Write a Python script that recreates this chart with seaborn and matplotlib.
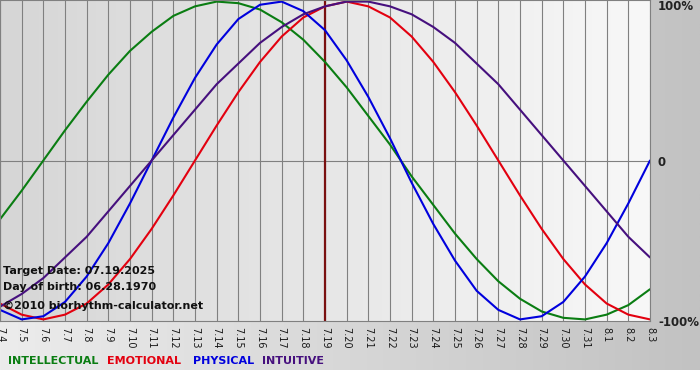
import numpy as np
import pandas as pd
import matplotlib
matplotlib.use("Agg")
import matplotlib.pyplot as plt
from matplotlib.colors import LinearSegmentedColormap
import seaborn as sns


# data (one value per day, -1 .. 1)
days = ["7.4", "7.5", "7.6", "7.7", "7.8", "7.9", "7.10", "7.11", "7.12", "7.13",
        "7.14", "7.15", "7.16", "7.17", "7.18", "7.19", "7.20", "7.21", "7.22", "7.23",
        "7.24", "7.25", "7.26", "7.27", "7.28", "7.29", "7.30", "7.31", "8.1", "8.2", "8.3"]

intellectual = [-0.37, -0.19, 0.00, 0.19, 0.37, 0.54, 0.69, 0.81, 0.91, 0.97,
                1.00, 0.99, 0.95, 0.87, 0.76, 0.62, 0.46, 0.28, 0.10, -0.10,
                -0.28, -0.46, -0.62, -0.76, -0.87, -0.95, -0.99, -1.00, -0.97, -0.91, -0.81]

emotional = [-0.90, -0.97, -1.00, -0.97, -0.90, -0.78, -0.62, -0.43, -0.22, 0.00,
             0.22, 0.43, 0.62, 0.78, 0.90, 0.97, 1.00, 0.97, 0.90, 0.78,
             0.62, 0.43, 0.22, 0.00, -0.22, -0.43, -0.62, -0.78, -0.90, -0.97, -1.00]

physical = [-0.94, -1.00, -0.98, -0.89, -0.73, -0.52, -0.27, 0.00, 0.27, 0.52,
            0.73, 0.89, 0.98, 1.00, 0.94, 0.82, 0.63, 0.40, 0.14, -0.14,
            -0.40, -0.63, -0.82, -0.94, -1.00, -0.98, -0.89, -0.73, -0.52, -0.27, 0.00]

intuitive = [-0.92, -0.84, -0.74, -0.61, -0.48, -0.32, -0.16, 0.00, 0.16, 0.32,
             0.48, 0.61, 0.74, 0.84, 0.92, 0.97, 1.00, 1.00, 0.97, 0.92,
             0.84, 0.74, 0.61, 0.48, 0.32, 0.16, 0.00, -0.16, -0.32, -0.48, -0.61]

cycles = ["INTELLECTUAL", "EMOTIONAL", "PHYSICAL", "INTUITIVE"]
colors = {"INTELLECTUAL": "#0a7d12", "EMOTIONAL": "#e3000f",
          "PHYSICAL": "#0000dd", "INTUITIVE": "#46107e"}
target_day = "7.19"
info_lines = ["Target Date: 07.19.2025", "Day of birth: 06.28.1970",
              "\u00a92010 biorhythm-calculator.net"]
y_labels = ["100%", "0", "-100%"]

sns.set_style("white")
plt.rcParams["font.family"] = ["DejaVu Sans"]

W, H = 700, 380
fig = plt.figure(figsize=(W / 100, H / 100), dpi=100, facecolor="white")

# grey frame behind everything (ends 10px above the bottom)
bg = fig.add_axes([0, 10 / H, 1, 370 / H], zorder=0)
bg.imshow(np.linspace(0, 1, 256)[None, :], aspect="auto",
          cmap=LinearSegmentedColormap.from_list("frame", ["#ececec", "#c2c2c2"]))
bg.set_axis_off()

ax = fig.add_axes([0, (H - 321) / H, 650 / W, 321 / H], zorder=1)
ax.patch.set_alpha(0)

df = pd.DataFrame({"day": np.arange(len(days)), "INTELLECTUAL": intellectual,
                   "EMOTIONAL": emotional, "PHYSICAL": physical, "INTUITIVE": intuitive})
long = df.melt(id_vars="day", var_name="cycle", value_name="value")

n = len(days) - 1
ax.imshow(np.linspace(0, 1, 256)[None, :], aspect="auto", zorder=0,
          extent=[0, n, -1.01, 1.01],
          cmap=LinearSegmentedColormap.from_list("plot", ["#d6d6d6", "#f8f8f8"]))

ax.axvline(days.index(target_day), color="#7a1010", lw=1.6, zorder=1.8)
sns.lineplot(data=long, x="day", y="value", hue="cycle", hue_order=cycles,
             palette=colors, linewidth=1.5, legend=False, ax=ax, zorder=2)

ax.set_xlim(0, n)
ax.set_ylim(-1.01, 1.01)
ax.set_xticks(df["day"])
ax.set_xticklabels(days, rotation=270, fontsize=7, color="#1a1a1a")
ax.set_yticks([])
ax.set_xlabel("")
ax.set_ylabel("")
ax.tick_params(axis="x", length=3, width=0.8, color="#808080", pad=1.5)
ax.grid(axis="x", color="#808080", lw=0.8, zorder=1)
ax.axhline(0, color="#808080", lw=0.8, zorder=1)
for side in ["top", "bottom", "left", "right"]:
    ax.spines[side].set_color("#808080")
    ax.spines[side].set_linewidth(0.8)

# text inside the plot
for i, line in enumerate(info_lines):
    fig.text(3 / W, (H - [271, 287, 306][i]) / H, line, fontsize=8,
             fontweight="bold", color="#111111", va="center", ha="left", zorder=5)

# labels on the right-hand grey strip
for lab, y in zip(y_labels, [7, 162, 322]):
    fig.text(658 / W, (H - y) / H, lab, fontsize=8.5, fontweight="bold",
             color="#222222", va="center", ha="left", zorder=5)

# coloured legend words
for name, x in zip(cycles, [8, 107, 193, 262]):
    fig.text(x / W, (H - 361) / H, name, fontsize=8, fontweight="bold",
             color=colors[name], va="center", ha="left", zorder=5)

fig.savefig("out.png", dpi=100, facecolor="white")
